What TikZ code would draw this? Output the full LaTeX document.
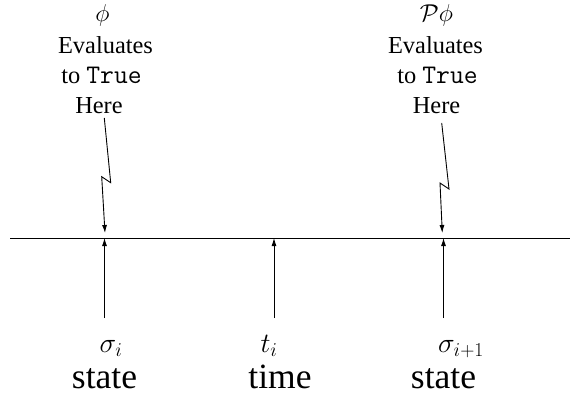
\RequirePackage{fix-cm}
\documentclass[tikz,border=0pt]{standalone}
\usepackage{fontspec}
\setmainfont{Liberation Serif}
\setmonofont{Latin Modern Mono}[Scale=1.1]
\usetikzlibrary{arrows.meta}
\tikzset{
  lbl/.style={anchor=base,inner sep=0pt,font=\fontsize{24.4}{30}\selectfont},
  mlbl/.style={anchor=base,inner sep=0pt,font=\fontsize{28}{32}\selectfont},
  big/.style={anchor=base,inner sep=0pt,font=\fontsize{35.5}{40}\selectfont},
  arr/.style={line width=0.9pt,-{Latex[length=8pt,width=5pt]}},
  axis/.style={line width=0.9pt}
}
\begin{document}
\begin{tikzpicture}[x=1pt,y=-1pt]
\useasboundingbox (0,0) rectangle (570,396);
% axis
\coordinate (axL) at (10,238);
\coordinate (axR) at (570,238);
\draw[axis] (axL) -- (axR);
% top left labels
\node[lbl] (phiL) at (102.5,22) {$\phi$};
\node[lbl] (evL) at (105.5,53) {Evaluates};
\node[lbl] (toL) at (101.5,83) {to \texttt{True}};
\node[lbl] (hereL) at (99,113) {Here};
% top right labels
\node[lbl] (phiR) at (436.5,22) {$\mathcal{P}\phi$};
\node[lbl] (evR) at (435.5,53) {Evaluates};
\node[lbl] (toR) at (437.5,83) {to \texttt{True}};
\node[lbl] (hereR) at (436.5,113) {Here};
% zigzag arrows
\coordinate (zL0) at (104.3,118);
\coordinate (zL1) at (110.7,182.7);
\coordinate (zL2) at (101.7,176.7);
\coordinate (zL3) at (105,233);
\draw[arr] (zL0) -- (zL1) -- (zL2) -- (zL3);
\coordinate (zR0) at (441.7,123);
\coordinate (zR1) at (449,189);
\coordinate (zR2) at (440,183);
\coordinate (zR3) at (442.3,233);
\draw[arr] (zR0) -- (zR1) -- (zR2) -- (zR3);
% up arrows
\coordinate (b1) at (104.5,318);
\coordinate (t1) at (104.5,238);
\coordinate (b2) at (274,318);
\coordinate (t2) at (274,238);
\coordinate (b3) at (443.5,318);
\coordinate (t3) at (443.5,238);
\draw[arr] (b1) -- (t1);
\draw[arr] (b2) -- (t2);
\draw[arr] (b3) -- (t3);
% bottom labels
\node[mlbl] (sigL) at (111,352) {$\sigma_i$};
\node[big] (stL) at (104.5,388) {state};
\node[mlbl] (tim) at (269,352) {$t_i$};
\node[big] (tm) at (280,388) {time};
\node[mlbl] (sigR) at (461,352) {$\sigma_{i+1}$};
\node[big] (stR) at (443.5,388) {state};
\end{tikzpicture}
\end{document}
